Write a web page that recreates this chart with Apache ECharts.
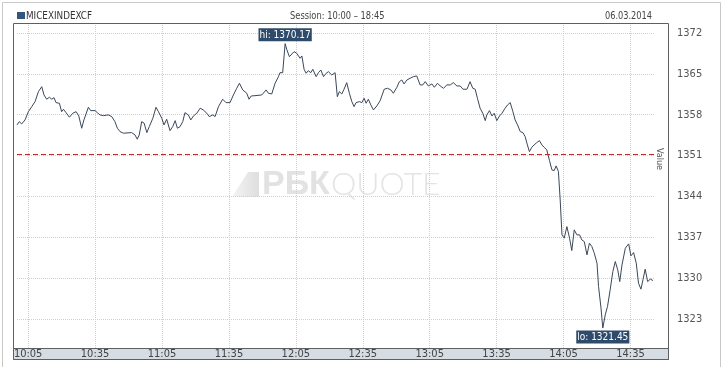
<!DOCTYPE html>
<html><head><meta charset="utf-8">
<script src="https://cdn.jsdelivr.net/npm/echarts@6.0.0/dist/echarts.min.js"></script>
<style>html,body{margin:0;padding:0;background:#fff}#c{width:726px;height:367px}</style>
</head><body><div id="c"></div>
<script>
// minutes after 10:00
const minutes = [
0,1.0,2.1,3.6,5.1,6.6,8.1,9.6,11.1,12.1,13.3,14.5,15.6,16.6,17.5,19.0,20.0,20.8,22.0,23.5,
25.0,26.5,27.7,29.0,30.0,32.0,33.0,35.0,36.0,37.2,38.7,40.9,42.5,43.9,45.0,46.2,47.7,51.4,52.9,53.9,
54.8,55.9,57.0,58.2,59.3,60.9,62.3,63.4,64.9,65.9,67.1,68.6,69.8,70.9,71.9,73.1,74.3,75.3,76.8,77.9,
79.1,80.6,82.1,83.5,85.1,86.2,87.8,88.8,90.3,92.2,93.7,95.5,97.0,98.5,99.7,101.2,103.0,104.0,105.0,106.7,
109.7,111.7,112.7,114.2,115.7,117.2,117.9,119.1,120.2,120.9,122.1,123.2,124.2,125.4,126.1,126.9,127.7,128.7,129.6,130.6,
131.7,132.6,134.1,135.1,136.2,137.4,138.6,139.6,141.1,142.6,143.6,144.5,145.6,146.6,147.8,149.0,150.1,151.1,152.0,153.5,
154.6,155.6,156.5,157.5,158.6,159.8,161.3,162.8,164.6,166.1,167.6,168.7,170.3,171.4,172.5,173.5,174.8,176.2,177.7,179.2,
180.7,181.9,183.0,184.4,186.0,187.1,188.5,189.7,191.2,192.7,194.2,195.6,197.2,198.7,199.9,201.7,203.1,204.3,205.4,206.4,
207.6,208.8,209.9,210.6,211.8,212.9,213.9,215.1,216.3,217.4,218.8,219.9,221.1,222.3,223.3,224.4,225.6,226.8,227.8,228.8,
229.7,230.8,231.8,233.0,234.2,235.3,236.3,237.5,238.7,239.8,240.8,241.7,242.7,243.5,244.3,245.3,246.5,247.7,248.7,249.8,
251.0,252.2,253.2,254.3,255.5,256.6,257.7,258.7,260.0,260.7,261.8,262.6,263.7,264.7,265.9,267.1,268.2,269.3,270.2,271.2,
272.7,274.2,275.2,276.4,277.6,278.6,279.7,280.6,281.6,282.7,283.9,285.1
];
const values = [
1356.25,1356.81,1356.42,1357.10,1358.52,1359.38,1360.24,1361.95,1362.80,1361.38,1360.65,1360.99,1360.65,1360.92,1360.07,1359.96,1358.52,1358.93,1358.35,1357.57,
1358.25,1358.52,1357.79,1355.68,1357.10,1359.28,1358.70,1358.70,1358.35,1357.96,1357.84,1357.96,1357.67,1356.81,1355.68,1355.10,1354.83,1354.93,1354.53,1353.80,
1354.53,1356.81,1356.54,1354.93,1355.96,1357.39,1359.28,1358.52,1357.39,1356.25,1357.22,1355.27,1355.96,1356.98,1355.68,1355.96,1356.81,1358.35,1357.96,1357.10,
1357.79,1358.25,1359.11,1358.82,1358.25,1357.67,1357.96,1357.67,1359.38,1360.65,1360.07,1360.07,1361.38,1362.53,1363.39,1362.24,1361.67,1360.65,1361.21,1361.26,
1361.38,1362.24,1361.67,1361.55,1363.39,1364.52,1365.20,1365.20,1370.17,1369.21,1367.94,1368.40,1368.80,1368.52,1368.63,1367.67,1368.06,1365.78,1365.10,1365.54,
1365.20,1365.78,1364.52,1365.20,1365.66,1364.52,1365.10,1365.37,1364.81,1365.20,1361.09,1361.95,1361.55,1362.36,1363.49,1361.67,1360.24,1359.38,1360.07,1360.24,
1360.07,1360.82,1359.96,1360.65,1359.67,1358.82,1359.50,1360.41,1362.36,1362.53,1362.24,1361.67,1362.70,1363.66,1363.95,1363.27,1363.95,1364.24,1364.52,1364.64,
1363.10,1363.10,1363.66,1362.92,1363.27,1362.70,1363.39,1362.92,1362.53,1363.10,1363.10,1363.49,1362.92,1362.92,1362.36,1362.36,1363.66,1362.53,1362.36,1360.82,
1359.11,1358.25,1356.98,1357.96,1358.70,1357.79,1358.25,1356.98,1357.79,1358.25,1359.11,1359.67,1360.07,1358.52,1357.10,1356.25,1355.10,1354.93,1354.24,1352.82,
1351.67,1352.43,1352.82,1353.22,1353.56,1352.82,1352.43,1351.97,1350.13,1348.54,1348.42,1349.23,1348.25,1343.40,1337.41,1336.85,1338.83,1336.85,1334.72,1338.27,
1337.41,1337.41,1336.55,1336.26,1333.99,1335.99,1335.41,1334.38,1332.57,1328.56,1324.86,1321.45,1323.71,1325.13,1327.99,1331.13,1332.84,1331.42,1329.41,1332.27,
1335.13,1335.87,1333.82,1334.38,1332.57,1329.14,1328.11,1329.71,1331.54,1329.41,1329.83,1329.59
];
const xTickMinutes = [5,35,65,95,125,155,185,215,245,275];
const xTickLabels = ['10:05','10:35','11:05','11:35','12:05','12:35','13:05','13:35','14:05','14:35'];
const yTicks = [1323,1330,1337,1344,1351,1358,1365,1372];
const refLine = 1351.2;
const hiPoint = [120.2, 1370.17];
const loPoint = [262.6, 1321.45];
const seriesName = 'MICEXINDEXCF';
const sessionText = 'Session: 10:00 \u2013 18:45';
const dateText = '06.03.2014';

const FONT = '"Liberation Sans Narrow","Arial Narrow","DejaVu Sans Condensed",sans-serif';
const chart = echarts.init(document.getElementById('c'), null, {renderer:'canvas'});
const data = minutes.map((m,i)=>[m, values[i]]);
const labelMap = {}; xTickMinutes.forEach((m,i)=>labelMap[m]=xTickLabels[i]);

chart.setOption({
  animation:false,
  backgroundColor:'#fff',
  grid:{left:17,right:71,top:23,bottom:19,containLabel:false},
  xAxis:{type:'value',min:0,max:286,
    axisLine:{show:false},
    axisTick:{show:false,customValues:xTickMinutes},
    axisLabel:{customValues:xTickMinutes,formatter:v=>labelMap[v]||'',margin:1,
      fontFamily:FONT,fontSize:11,color:'#444',verticalAlign:'top'},
    splitLine:{show:true,lineStyle:{color:'#cfcfcf',type:'dotted',width:1}}
  },
  yAxis:{type:'value',position:'right',min:1318.03,max:1373.71,
    axisLine:{show:false},
    axisTick:{show:false,customValues:yTicks},
    axisLabel:{customValues:yTicks,margin:22,formatter:v=>String(v),fontFamily:FONT,fontSize:11,color:'#555'},
    splitLine:{show:true,lineStyle:{color:'#cfcfcf',type:'dotted',width:1}}
  },
  series:[{
    type:'line',name:seriesName,data:data,showSymbol:false,symbol:'none',
    lineStyle:{color:'#3a4859',width:1},z:3,
    markLine:{silent:true,symbol:'none',label:{show:false},
      lineStyle:{color:'#c0272d',type:[5,3],width:1},
      data:[{yAxis:refLine}]},
    markPoint:{silent:true,symbol:'circle',symbolSize:1,itemStyle:{color:'rgba(0,0,0,0)'},
      data:[
        {coord:hiPoint,label:{show:true,position:'top',distance:2,formatter:'hi: '+hiPoint[1].toFixed(2)}},
        {coord:loPoint,label:{show:true,position:'bottom',distance:2,formatter:'lo: '+loPoint[1].toFixed(2)}}
      ],
      label:{backgroundColor:'#2f4b6c',color:'#fff',fontFamily:FONT,fontSize:10,padding:[1,1,0,1],lineHeight:12}
    }
  }],
  graphic:[
    {type:'rect',z:-20,shape:{x:2.5,y:2.5,width:718,height:372},style:{fill:'none',stroke:'#c9c9c9',lineWidth:1}},
    {type:'polygon',z:-10,shape:{points:[[248,172],[259,172],[259,197],[232,197]]},
      style:{fill:new echarts.graphic.LinearGradient(0,0,1,0,[{offset:0,color:'#f4f4f4'},{offset:1,color:'#dedede'}])}},
    {type:'text',z:-10,x:262,y:185,style:{text:'РБК',font:'bold 34px "Liberation Sans",Arial,sans-serif',fill:'#e2e2e2',verticalAlign:'middle'}},
    {type:'text',z:-10,x:331,y:185,style:{text:'QUOTE',font:'300 32px Lato,"Liberation Sans",sans-serif',fill:'#e4e4e4',verticalAlign:'middle'}},
    {type:'rect',z:-1,shape:{x:13.5,y:348.5,width:655,height:11},style:{fill:'#d6dce4',stroke:'#5f5f5f',lineWidth:1}},
    {type:'rect',z:30,shape:{x:13.5,y:23.5,width:655,height:336},style:{fill:'none',stroke:'#5f5f5f',lineWidth:1}},
    {type:'rect',z:30,shape:{x:17,y:12,width:8,height:7},style:{fill:'#34557d'}},
    {type:'text',z:30,x:26,y:16,scaleX:0.89,style:{text:seriesName,font:'11px '+FONT,fill:'#333',verticalAlign:'middle'}},
    {type:'text',z:30,x:290,y:16,scaleX:0.84,style:{text:sessionText,font:'11px '+FONT,fill:'#444',verticalAlign:'middle'}},
    {type:'text',z:30,x:652,y:16,scaleX:0.83,style:{text:dateText,font:'11px '+FONT,fill:'#444',align:'right',verticalAlign:'middle'}},
    {type:'text',z:30,x:659,y:159,rotation:-Math.PI/2,style:{text:'Value',font:'9px '+FONT,fill:'#555',align:'center',verticalAlign:'middle'}}
  ]
});
</script></body></html>
